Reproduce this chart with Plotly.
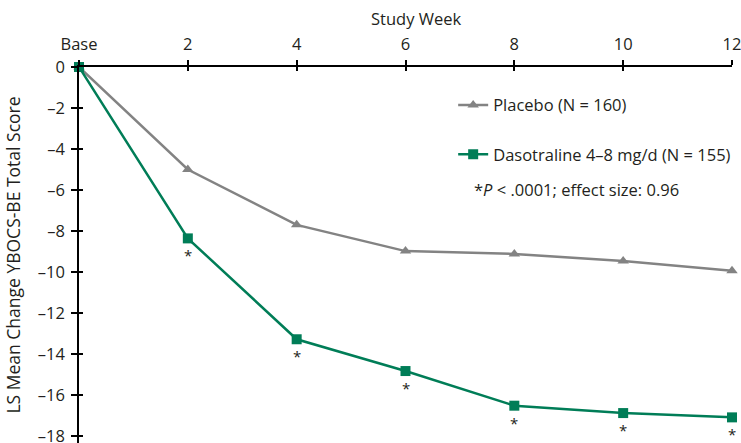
import plotly.graph_objects as go

weeks = [0, 2, 4, 6, 8, 10, 12]
tick_labels = ["Base", "2", "4", "6", "8", "10", "12"]
placebo = [0, -5.0, -7.7, -8.98, -9.12, -9.46, -9.94]
dasotraline = [0, -8.36, -13.28, -14.83, -16.52, -16.88, -17.09]
sig_weeks = [2, 4, 6, 8, 10, 12]
sig_vals = [-8.36, -13.28, -14.83, -16.52, -16.88, -17.09]
y_ticks = [0, -2, -4, -6, -8, -10, -12, -14, -16, -18]

GRAY = "#838383"
GREEN = "#007d57"
TXT = "#231f20"
FONT = "Open Sans"

fig = go.Figure()
fig.add_trace(go.Scatter(
    x=weeks, y=placebo, mode="lines+markers", name="Placebo (N = 160)",
    line=dict(color=GRAY, width=2.5),
    marker=dict(symbol="triangle-up", size=10, color=GRAY),
    cliponaxis=False, legendgroup="a"))
fig.add_trace(go.Scatter(
    x=weeks, y=dasotraline, mode="lines+markers", name="Dasotraline 4–8 mg/d (N = 155)",
    line=dict(color=GREEN, width=2.5),
    marker=dict(symbol="square", size=10, color=GREEN),
    cliponaxis=False, legendgroup="b"))
# invisible helper trace so the overlay axes (inward tick halves) are drawn
fig.add_trace(go.Scatter(x=[0, 12], y=[0, 0], xaxis="x2", yaxis="y2", mode="lines",
                         line=dict(width=0), showlegend=False, hoverinfo="skip"))

for wk, v in zip(sig_weeks, sig_vals):
    fig.add_annotation(x=wk, y=v, text="*", showarrow=False, yshift=-17,
                       font=dict(family=FONT, size=15, color=TXT))

fig.add_annotation(xref="paper", yref="paper", x=0.602, y=0.673, xanchor="left",
                   yanchor="middle", showarrow=False,
                   text="*<i>P</i> < .0001; effect size: 0.96",
                   font=dict(family=FONT, size=16.5, color=TXT))

fig.add_annotation(xref="paper", yref="paper", x=0.516, y=1.130, xanchor="center",
                   yanchor="middle", showarrow=False, text="Study Week",
                   font=dict(family=FONT, size=16.5, color=TXT))

fig.update_layout(
    width=741, height=443,
    margin=dict(l=79, r=9, t=67, b=0, autoexpand=False),
    paper_bgcolor="white", plot_bgcolor="white",
    font=dict(family=FONT, size=16.5, color=TXT),
    showlegend=True,
    legend=dict(x=0.573, y=0.945, xanchor="left", yanchor="top",
                tracegroupgap=25, bgcolor="rgba(0,0,0,0)",
                font=dict(family=FONT, size=16.5, color=TXT)),
    xaxis=dict(side="top", range=[0, 12], tickvals=weeks, ticktext=tick_labels,
               showline=True, linecolor="black", linewidth=1.5,
               ticks="outside", ticklen=5, tickwidth=1.5, tickcolor="black",
               tickfont=dict(family=FONT, size=16.5, color=TXT),
               ticklabelstandoff=4, automargin=False,
               ticklabeloverflow="allow",
               showgrid=False, zeroline=False),
    xaxis2=dict(overlaying="x", side="top", range=[0, 12], tickvals=weeks,
                showticklabels=False, ticks="inside", ticklen=4, tickwidth=1.5,
                tickcolor="black", showgrid=False, zeroline=False, showline=False,
                automargin=False),
    yaxis=dict(range=[-18.34, 0], tickvals=y_ticks,
               ticktext=[("–" + str(-t)) if t < 0 else "0" for t in y_ticks],
               showline=True, linecolor="black", linewidth=1.5,
               ticks="outside", ticklen=6, tickwidth=1.5, tickcolor="black",
               tickfont=dict(family=FONT, size=16.5, color=TXT),
               ticklabelstandoff=3, automargin=False, ticklabeloverflow="allow",
               showgrid=False, zeroline=False,
               title=dict(text="LS Mean Change YBOCS-BE Total Score", standoff=13,
                          font=dict(family=FONT, size=17.5, color=TXT))),
    yaxis2=dict(overlaying="y", side="left", range=[-18.34, 0], tickvals=y_ticks,
                showticklabels=False, ticks="inside", ticklen=4, tickwidth=1.5,
                tickcolor="black", showgrid=False, zeroline=False, showline=False,
                automargin=False),
)

fig.write_html(
    "out.html",
    config={"displayModeBar": False},
    post_script="document.body.style.margin='0';document.body.style.overflow='hidden';",
)
